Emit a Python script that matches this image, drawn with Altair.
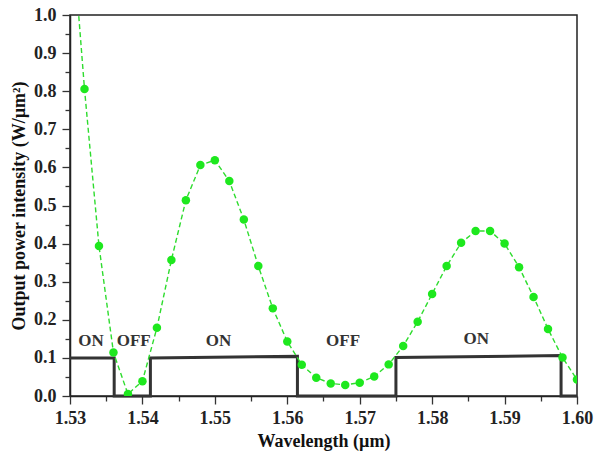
import altair as alt
import pandas as pd

# Output power intensity curve (green)
wavelength = [1.530, 1.532, 1.534, 1.536, 1.538, 1.540, 1.542, 1.544, 1.546, 1.548,
              1.550, 1.552, 1.554, 1.556, 1.558, 1.560, 1.562, 1.564, 1.566, 1.568,
              1.570, 1.572, 1.574, 1.576, 1.578, 1.580, 1.582, 1.584, 1.586, 1.588,
              1.590, 1.592, 1.594, 1.596, 1.598, 1.600]
power = [1.29, 0.806, 0.394, 0.114, 0.005, 0.039, 0.179, 0.357, 0.514, 0.606,
         0.619, 0.564, 0.463, 0.341, 0.230, 0.143, 0.082, 0.048, 0.033, 0.029,
         0.035, 0.051, 0.083, 0.131, 0.195, 0.268, 0.341, 0.402, 0.433, 0.433,
         0.400, 0.338, 0.260, 0.176, 0.101, 0.043]

# ON/OFF switching state (black step line)
step_wl = [1.530, 1.5361, 1.5361, 1.5411, 1.5411, 1.5614, 1.5614, 1.5750, 1.5750, 1.5978, 1.5978, 1.600]
step_val = [0.100, 0.100, 0.0, 0.0, 0.100, 0.104, 0.0, 0.0, 0.101, 0.106, 0.0, 0.0]

# State labels
label_text = ["ON", "OFF", "ON", "OFF", "ON"]
label_wl = [1.5329, 1.5388, 1.5505, 1.5677, 1.5861]
label_y = [0.144, 0.144, 0.144, 0.144, 0.149]

x_major = [1.53, 1.54, 1.55, 1.56, 1.57, 1.58, 1.59, 1.60]
x_minor = [1.535, 1.545, 1.555, 1.565, 1.575, 1.585, 1.595]
y_major = [0.0, 0.1, 0.2, 0.3, 0.4, 0.5, 0.6, 0.7, 0.8, 0.9, 1.0]
y_minor = [0.05, 0.15, 0.25, 0.35, 0.45, 0.55, 0.65, 0.75, 0.85, 0.95]

curve_df = pd.DataFrame({"wl": wavelength, "p": power})
step_df = pd.DataFrame({"wl": step_wl, "v": step_val, "o": list(range(len(step_wl)))})
label_df = pd.DataFrame({"t": label_text, "wl": label_wl, "y": label_y})

FONT = "Liberation Serif"
xscale = alt.Scale(domain=[1.53, 1.60], nice=False, zero=False)
yscale = alt.Scale(domain=[0.0, 1.0], nice=False)

axis_common = dict(
    labelFont=FONT, labelFontWeight="bold", labelFontSize=18, labelColor="#222",
    titleFont=FONT, titleFontWeight="bold", titleFontSize=18, titleColor="#111",
    domainColor="#222", domainWidth=1.5, tickColor="#333", tickWidth=1.3,
    grid=False,
)

x_major_axis = alt.Axis(values=x_major, format=".2f", tickSize=8, labelPadding=5,
                        labelFlush=False,
                        title="Wavelength (µm)", titlePadding=5, orient="bottom",
                        **axis_common)
y_major_axis = alt.Axis(values=y_major, format=".1f", tickSize=8, labelPadding=6,
                        title="Output power intensity (W/µm²)", titlePadding=5,
                        orient="left", **axis_common)
x_minor_axis = alt.Axis(values=x_minor, tickSize=5, labels=False, domain=False,
                        title=None, orient="bottom", tickColor="#333", tickWidth=1.3, grid=False)
y_minor_axis = alt.Axis(values=y_minor, tickSize=5, labels=False, domain=False,
                        title=None, orient="left", tickColor="#333", tickWidth=1.3, grid=False)

curve_line = alt.Chart(curve_df).mark_line(
    color="#2edc2e", strokeDash=[5, 3], strokeWidth=1.4, clip=True
).encode(
    x=alt.X("wl:Q", scale=xscale, axis=x_major_axis),
    y=alt.Y("p:Q", scale=yscale, axis=y_major_axis),
)

curve_pts = alt.Chart(curve_df).mark_circle(
    color="#1ee81e", opacity=1, size=72, clip=True
).encode(
    x=alt.X("wl:Q", scale=xscale, axis=None),
    y=alt.Y("p:Q", scale=yscale, axis=None),
)

step_line = alt.Chart(step_df).mark_line(
    color="#333333", strokeWidth=3, strokeJoin="miter"
).encode(
    x=alt.X("wl:Q", scale=xscale, axis=x_minor_axis),
    y=alt.Y("v:Q", scale=yscale, axis=y_minor_axis),
    order="o:Q",
)

labels = alt.Chart(label_df).mark_text(
    font=FONT, fontWeight="bold", fontSize=17, color="#333"
).encode(
    x=alt.X("wl:Q", scale=xscale, axis=None),
    y=alt.Y("y:Q", scale=yscale, axis=None),
    text="t:N",
)

chart = alt.layer(step_line, curve_line, curve_pts, labels).resolve_axis(
    x="independent", y="independent"
).properties(
    width=507, height=381,
    autosize=alt.AutoSizeParams(type="none"),
    padding={"left": 70, "top": 15, "right": 23, "bottom": 56},
).configure_view(stroke="#222", strokeWidth=1.5)

chart.save("out.html", embed_options={"renderer": "svg", "actions": False})
